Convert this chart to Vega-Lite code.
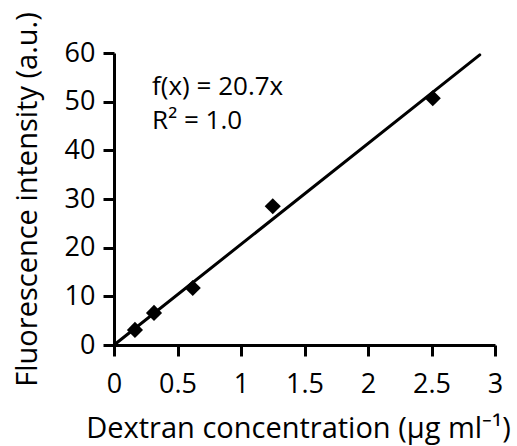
{
  "$schema": "https://vega.github.io/schema/vega-lite/v6.json",
  "autosize": "none",
  "width": 381,
  "height": 292,
  "padding": {"left": 114, "top": 53, "right": 22, "bottom": 101},
  "background": "white",
  "config": {
    "view": {"stroke": null},
    "font": "Open Sans",
    "axis": {
      "grid": false,
      "domainColor": "black",
      "domainWidth": 3,
      "tickColor": "black",
      "tickWidth": 3,
      "tickSize": 11,
      "labelColor": "black",
      "labelFontSize": 27,
      "labelFont": "Open Sans",
      "titleColor": "black",
      "titleFontSize": 29,
      "titleFont": "Open Sans",
      "titleFontWeight": "normal"
    }
  },
  "datasets": {
    "points": [
      {"conc": 0.165, "fi": 3.1},
      {"conc": 0.315, "fi": 6.6},
      {"conc": 0.62, "fi": 11.7},
      {"conc": 1.25, "fi": 28.5},
      {"conc": 2.51, "fi": 50.7}
    ],
    "fit": [
      {"conc": 0, "fi": 0},
      {"conc": 2.88, "fi": 59.6}
    ],
    "notes": [
      {"conc": 0.3, "fi": 51.4, "label": "f(x) = 20.7x"},
      {"conc": 0.3, "fi": 44.4, "label": "R² = 1.0"}
    ]
  },
  "layer": [
    {
      "data": {"name": "fit"},
      "mark": {"type": "line", "color": "black", "strokeWidth": 3, "strokeCap": "round", "clip": false},
      "encoding": {
        "x": {
          "field": "conc", "type": "quantitative",
          "scale": {"domain": [0, 3], "nice": false},
          "axis": {"values": [0, 0.5, 1, 1.5, 2, 2.5, 3], "format": "~g", "labelPadding": 15, "labelFlush": false, "labelOverlap": false,
                   "title": "Dextran concentration (μg ml⁻¹)", "titlePadding": 17, "titleX": 184}
        },
        "y": {
          "field": "fi", "type": "quantitative",
          "scale": {"domain": [0, 60], "nice": false},
          "axis": {"values": [0, 10, 20, 30, 40, 50, 60], "labelPadding": 8, "labelFlush": false, "labelOverlap": false,
                   "title": "Fluorescence intensity (a.u.)", "titlePadding": 22}
        }
      }
    },
    {
      "data": {"name": "points"},
      "mark": {"type": "point", "shape": "diamond", "filled": true, "color": "black", "size": 260, "opacity": 1},
      "encoding": {
        "x": {"field": "conc", "type": "quantitative"},
        "y": {"field": "fi", "type": "quantitative"}
      }
    },
    {
      "data": {"name": "notes"},
      "mark": {"type": "text", "align": "left", "baseline": "alphabetic", "fontSize": 26, "font": "Open Sans", "color": "black"},
      "encoding": {
        "x": {"field": "conc", "type": "quantitative"},
        "y": {"field": "fi", "type": "quantitative"},
        "text": {"field": "label"}
      }
    }
  ]
}
